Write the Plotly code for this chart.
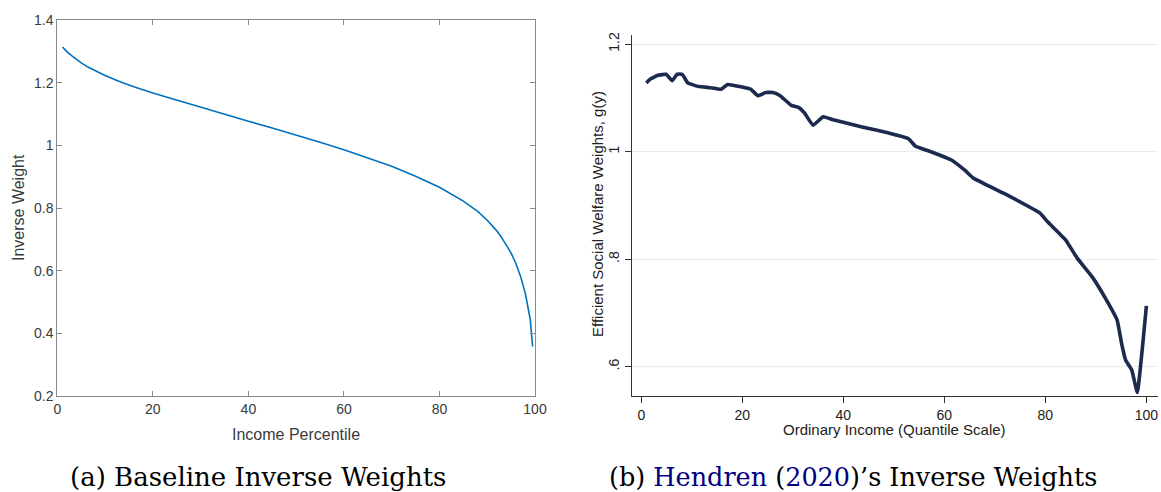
import plotly.graph_objects as go

# ---- Panel (a): Baseline inverse weights ----
base_pct = [1.1, 1.5, 2, 3, 4, 5, 6.5, 8, 10, 13, 16, 20, 25, 30, 35, 40, 45, 50, 55,
            60, 65, 70, 75, 80, 85, 88, 90, 92, 93, 94, 95, 96, 97, 98, 98.5, 99, 99.5]
base_w = [1.314, 1.307, 1.299, 1.286, 1.274, 1.263, 1.249, 1.237, 1.223, 1.204, 1.187,
          1.167, 1.144, 1.122, 1.099, 1.077, 1.055, 1.033, 1.010, 0.986, 0.960, 0.933,
          0.901, 0.866, 0.822, 0.789, 0.761, 0.727, 0.706, 0.683, 0.656, 0.623, 0.581,
          0.526, 0.490, 0.445, 0.358]

# ---- Panel (b): Hendren (2020) weights ----
hend_q = [1, 1.8, 3.3, 4.9, 6.1, 7.1, 8.1, 9.2, 11.4, 13.6, 15.8, 17.1, 19.5, 21.7,
          23.1, 24.6, 26.1, 27.5, 29.7, 31.2, 32.3, 34, 36, 37.8, 43.7, 48.8, 52.9,
          54.3, 57.6, 61.3, 64.1, 65.7, 72.3, 78.9, 80.4, 84, 86.3, 89.2, 92.1, 94.2,
          95.1, 95.9, 97.1, 98.2, 100]
hend_g = [1.128, 1.135, 1.142, 1.144, 1.132, 1.144, 1.144, 1.128, 1.121, 1.119,
          1.116, 1.125, 1.121, 1.116, 1.104, 1.110, 1.110, 1.104, 1.086, 1.082,
          1.072, 1.049, 1.065, 1.060, 1.046, 1.035, 1.024, 1.010, 0.999, 0.985,
          0.965, 0.951, 0.920, 0.886, 0.870, 0.836, 0.802, 0.768, 0.724, 0.687,
          0.643, 0.612, 0.594, 0.552, 0.713]

left_xticks = [0, 20, 40, 60, 80, 100]
left_yticks = [0.2, 0.4, 0.6, 0.8, 1.0, 1.2, 1.4]
left_ylabels = ["0.2", "0.4", "0.6", "0.8", "1", "1.2", "1.4"]
right_xticks = [0, 20, 40, 60, 80, 100]
right_yticks = [0.6, 0.8, 1.0, 1.2]
right_ylabels = [".6", ".8", "1", "1.2"]

W, H = 1161, 492
def px(x):
    return x / W
def py(y):
    return 1 - y / H

fig = go.Figure()
fig.add_trace(go.Scatter(x=base_pct, y=base_w, mode="lines",
                         line=dict(color="#0072BD", width=1.6, shape="linear"),
                         xaxis="x", yaxis="y", showlegend=False))
fig.add_trace(go.Scatter(x=hend_q, y=hend_g, mode="lines",
                         line=dict(color="#1B2A4E", width=3.6, shape="spline", smoothing=0.3),
                         xaxis="x2", yaxis="y2", showlegend=False))

sans = "Liberation Sans, Arial, sans-serif"
serif = "DejaVu Serif, Liberation Serif, serif"

fig.update_layout(
    template="none",
    width=W, height=H, margin=dict(l=0, r=0, t=0, b=0, pad=0),
    paper_bgcolor="white", plot_bgcolor="white",
    xaxis=dict(domain=[px(57.3), px(535)], range=[0, 100], tickvals=left_xticks,
               ticks="inside", ticklen=5, tickcolor="#8a8a8a", showline=True,
               linecolor="#8a8a8a", linewidth=1, mirror="ticks", showgrid=False,
               zeroline=False, anchor="y", automargin=False,
               tickfont=dict(family=sans, size=14, color="#3a3a3a")),
    yaxis=dict(domain=[py(396), py(20)], range=[0.2, 1.4], tickvals=left_yticks,
               ticktext=left_ylabels, ticks="inside", ticklen=5, tickcolor="#8a8a8a",
               showline=True, linecolor="#8a8a8a", linewidth=1, mirror="ticks",
               showgrid=False, zeroline=False, anchor="x", automargin=False,
               tickfont=dict(family=sans, size=14, color="#3a3a3a")),
    xaxis2=dict(domain=[px(631.7), px(1158)], range=[-1.9, 102.3], tickvals=right_xticks,
                ticks="outside", ticklen=6, tickcolor="#333", showline=True,
                linecolor="#333", linewidth=1.2, showgrid=False, zeroline=False,
                anchor="y2", automargin=False,
                tickfont=dict(family=sans, size=14, color="#222")),
    yaxis2=dict(domain=[py(396), py(35)], range=[0.5455, 1.217], tickvals=right_yticks,
                ticktext=right_ylabels, tickangle=-90, ticks="outside", ticklen=6,
                tickcolor="#333", showline=True, linecolor="#333", linewidth=1.2,
                showgrid=True, gridcolor="#E6EFF0", gridwidth=1, zeroline=False,
                anchor="x2", automargin=False,
                tickfont=dict(family=sans, size=14, color="#222")),
)

ann = [
    dict(text="Inverse Weight", x=px(18), y=py(208), textangle=-90,
         font=dict(family=sans, size=16, color="#3a3a3a")),
    dict(text="Income Percentile", x=px(296), y=py(434),
         font=dict(family=sans, size=16, color="#3a3a3a")),
    dict(text="Efficient Social Welfare Weights, g(y)", x=px(597), y=py(214), textangle=-90,
         font=dict(family=sans, size=15, color="#222")),
    dict(text="Ordinary Income (Quantile Scale)", x=px(894), y=py(429),
         font=dict(family=sans, size=15, color="#222")),
    dict(text="(a) Baseline Inverse Weights", x=px(258), y=py(477),
         font=dict(family=serif, size=26, color="black")),
    dict(text="(b) <span style='color:#000080'>Hendren</span> (<span style='color:#000080'>2020</span>)’s Inverse Weights",
         x=px(853), y=py(477), font=dict(family=serif, size=25.5, color="black")),
]
for a in ann:
    fig.add_annotation(xref="paper", yref="paper", showarrow=False,
                       xanchor="center", yanchor="middle", **a)

fig.write_html("out.html", config={"displayModeBar": False},
               post_script="document.body.style.margin='0';document.body.style.overflow='hidden';")
